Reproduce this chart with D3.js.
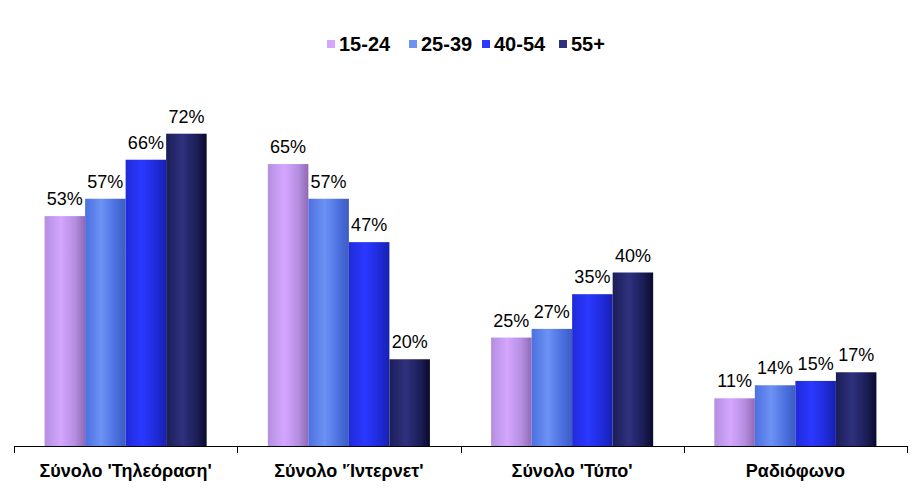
<!DOCTYPE html>
<html>
<head>
<meta charset="utf-8">
<script src="https://cdn.jsdelivr.net/npm/d3@7"></script>
<style>
  body { margin: 0; background: #fff; }
  text { font-family: Arial, "Liberation Sans", sans-serif; }
</style>
</head>
<body>
<script>
const categories = ["Σύνολο 'Τηλεόραση'", "Σύνολο 'Ίντερνετ'", "Σύνολο 'Τύπο'", "Ραδιόφωνο"];
const series = ['15-24', '25-39', '40-54', '55+'];
const values = [
    [53, 57, 66, 72],
    [65, 57, 47, 20],
    [25, 27, 35, 40],
    [11, 14, 15, 17]
];
// base, light, dark for each series gradient
const colors = [
    ['#b48ee0', '#d4a6ff', '#9068b4'],
    ['#4c70e0', '#6c92f4', '#3c5cc0'],
    ['#1f2bd8', '#2c38ff', '#1820b0'],
    ['#1c1e58', '#2f317e', '#0a0a2c']
];

const width = 921, height = 498;
const x0Left = 14, x0Right = 907;
const baseY = 446;

const svg = d3.select('body')
    .append('svg')
    .attr('width', width)
    .attr('height', height);

// gradients
const defs = svg.append('defs');
colors.forEach((c, i) => {
    const g = defs.append('linearGradient')
        .attr('id', 'grad' + i)
        .attr('x1', '0%').attr('x2', '100%')
        .attr('y1', '0%').attr('y2', '0%');
    g.append('stop').attr('offset', '0%').attr('stop-color', c[0]);
    g.append('stop').attr('offset', '40%').attr('stop-color', c[1]);
    g.append('stop').attr('offset', '75%').attr('stop-color', c[0]);
    g.append('stop').attr('offset', '100%').attr('stop-color', c[2]);
});

const x0 = d3.scaleBand()
    .domain(categories)
    .range([x0Left, x0Right])
    .paddingInner(0.274)
    .paddingOuter(0.137);

const x1 = d3.scaleBand()
    .domain(series)
    .range([0, x0.bandwidth()]);

const y = d3.scaleLinear()
    .domain([0, 80])
    .range([baseY, 99]);

// bars
const groups = svg.selectAll('g.group')
    .data(values)
    .enter()
    .append('g')
    .attr('class', 'group')
    .attr('transform', (d, i) => `translate(${x0(categories[i])},0)`);

groups.selectAll('rect')
    .data(d => d)
    .enter()
    .append('rect')
    .attr('x', (d, i) => x1(series[i]))
    .attr('y', d => y(d))
    .attr('width', x1.bandwidth())
    .attr('height', d => baseY - y(d))
    .attr('fill', (d, i) => `url(#grad${i})`);

// value labels
groups.selectAll('text')
    .data(d => d)
    .enter()
    .append('text')
    .attr('x', (d, i) => x1(series[i]) + x1.bandwidth() / 2)
    .attr('y', d => y(d) - 11)
    .attr('text-anchor', 'middle')
    .attr('font-size', '18px')
    .attr('fill', '#000')
    .text(d => d + '%');

// x axis
svg.append('line')
    .attr('x1', x0Left).attr('x2', x0Right)
    .attr('y1', baseY + 0.5).attr('y2', baseY + 0.5)
    .attr('stroke', '#000')
    .attr('stroke-width', 1);

const tickPos = categories.map(c => x0(c) - x0.step() * x0.paddingOuter());
tickPos.push(x0Right);
svg.selectAll('line.tick')
    .data(tickPos)
    .enter()
    .append('line')
    .attr('class', 'tick')
    .attr('x1', d => Math.round(d) + 0.5).attr('x2', d => Math.round(d) + 0.5)
    .attr('y1', baseY).attr('y2', baseY + 7)
    .attr('stroke', '#000');

svg.selectAll('text.cat')
    .data(categories)
    .enter()
    .append('text')
    .attr('class', 'cat')
    .attr('x', d => x0(d) + x0.bandwidth() / 2)
    .attr('y', 477)
    .attr('text-anchor', 'middle')
    .attr('font-size', '18px')
    .attr('font-weight', 'bold')
    .text(d => d);

// legend
const legendX = [327, 409, 482, 559];
const legend = svg.selectAll('g.legend')
    .data(series)
    .enter()
    .append('g')
    .attr('class', 'legend')
    .attr('transform', (d, i) => `translate(${legendX[i]},51)`);

legend.append('rect')
    .attr('x', 0).attr('y', -11)
    .attr('width', 8).attr('height', 8)
    .attr('fill', (d, i) => colors[i][1]);

legend.append('text')
    .attr('x', 12)
    .attr('y', 0)
    .attr('font-size', '20px')
    .attr('font-weight', 'bold')
    .text(d => d);
</script>
</body>
</html>
